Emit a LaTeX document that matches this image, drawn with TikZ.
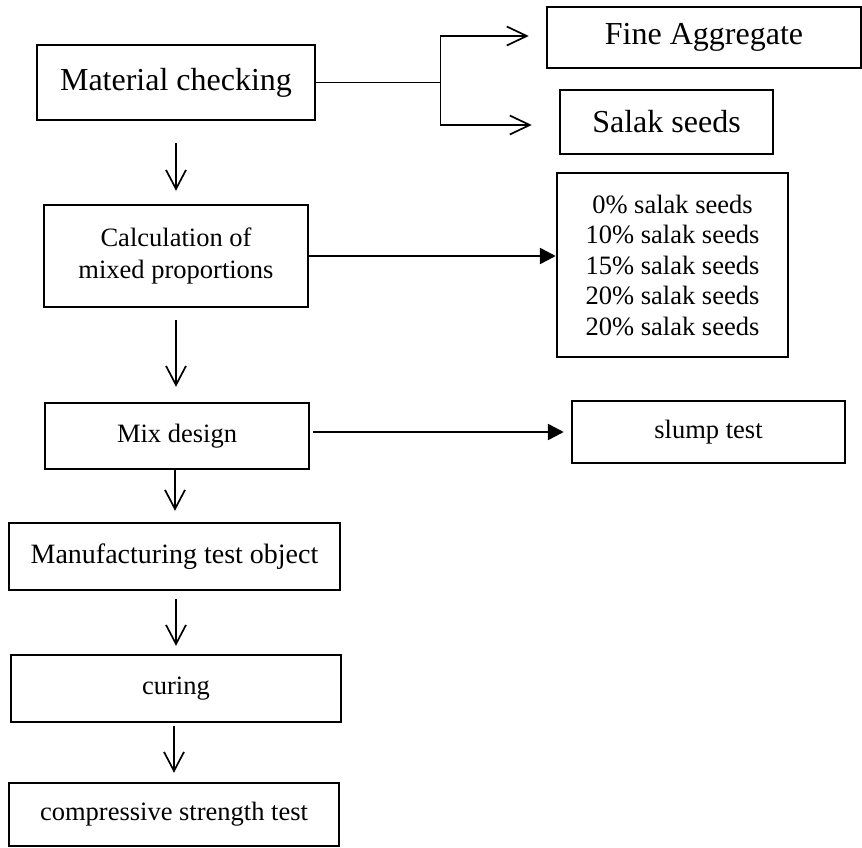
\documentclass[tikz,border=0pt]{standalone}
\usepackage{fontspec}
\setmainfont{Liberation Serif}
\usetikzlibrary{arrows.meta}
\begin{document}
\begin{tikzpicture}[x=1pt,y=-1pt,
  box/.style={draw, line width=2.5pt, inner sep=0pt, align=center,
    font=\fontsize{26.5}{30.5}\selectfont},
  bigbox/.style={box, font=\fontsize{32}{36}\selectfont},
  downarrow/.style={line width=1.7pt, -{Straight Barb[length=19pt,width=20pt,line width=1.7pt]}},
  openarrow/.style={line width=2.5pt, -{Straight Barb[length=20pt,width=19pt,line width=1.7pt]}},
  solidarrow/.style={line width=2.5pt, -{Triangle[length=16pt,width=16pt]}},
  thinline/.style={line width=1pt},
]
\useasboundingbox (0,0) rectangle (862,847);

\node[bigbox, minimum width=278pt, minimum height=75pt] (mat) at (176,82.5) {Material checking};
\node[bigbox, minimum width=314pt, minimum height=61pt] (fine) at (704,37.5) {Fine Aggregate};
\node[bigbox, minimum width=213pt, minimum height=64pt] (salak) at (666.5,122) {Salak seeds};
\node[box, minimum width=264pt, minimum height=102pt, font=\fontsize{26.5}{31.5}\selectfont] (calc) at (176,256) {Calculation of\\mixed proportions};
\node[box, minimum width=231pt, minimum height=184pt] (pct) at (672.5,265) {0\% salak seeds\\10\% salak seeds\\15\% salak seeds\\20\% salak seeds\\20\% salak seeds};
\node[box, minimum width=264pt, minimum height=66pt] (mix) at (177,436) {Mix design};
\node[box, minimum width=273pt, minimum height=62pt] (slump) at (708.5,432) {slump test};
\node[box, minimum width=331pt, minimum height=67pt, font=\fontsize{28}{32}\selectfont] (manu) at (174.5,556.5) {Manufacturing test object};
\node[box, minimum width=330pt, minimum height=67pt] (cur) at (176,688.5) {curing};
\node[box, minimum width=330pt, minimum height=63pt] (comp) at (174,814.5) {compressive strength test};

% branch from material checking
\coordinate (j) at (440,82);
\coordinate (jt) at (440,36);
\coordinate (jb) at (440,125);
\draw[thinline] (mat.east |- j) -- (j);
\draw[thinline] (jt) -- (jb);
\draw[openarrow, shorten >=17pt] (jt) -- (fine.west |- jt);
\draw[openarrow, shorten >=27pt] (jb) -- (salak.west |- jb);

% vertical flow
\draw[downarrow, shorten <=22pt, shorten >=13pt] (mat.south) -- (calc.north);
\draw[downarrow, shorten <=12pt, shorten >=15pt] (calc.south) -- (calc.south |- mix.north);
\draw[downarrow, shorten >=11pt] (mix.south -| 175,0) -- (manu.north -| 175,0);
\draw[downarrow, shorten <=8pt, shorten >=8pt] (manu.south -| 176,0) -- (cur.north);
\draw[downarrow, shorten <=3pt, shorten >=9pt] (cur.south -| 174,0) -- (comp.north);

% side arrows
\draw[solidarrow] (calc.east) -- (calc.east -| pct.west);
\draw[solidarrow, shorten >=7pt] ([xshift=3pt]mix.east |- slump.west) -- (slump.west);
\end{tikzpicture}
\end{document}
